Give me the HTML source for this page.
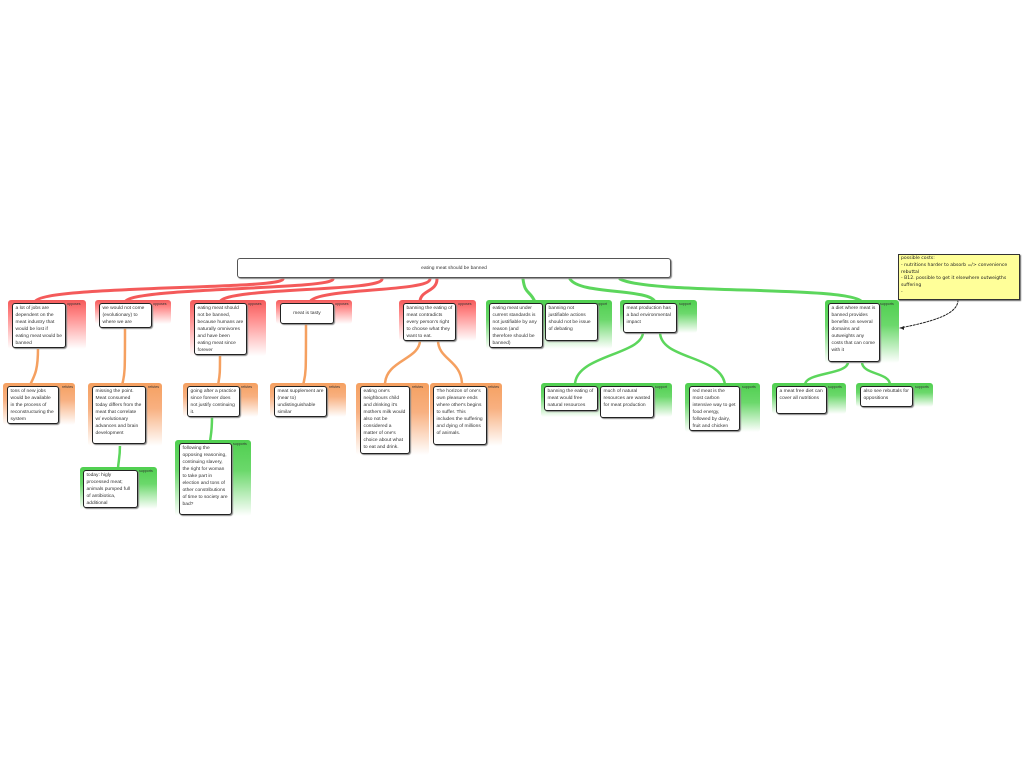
<!DOCTYPE html>
<html><head><meta charset="utf-8"><style>
body{margin:0;width:1024px;height:768px;background:#fff;position:relative;overflow:hidden;font-family:"Liberation Sans",sans-serif}
.c{position:absolute;border-radius:3px}
.r{background:linear-gradient(#f45a5a 0%,#f88 30%,#fff 100%)}
.o{background:linear-gradient(#f5a060 0%,#f8b080 40%,#fff 100%)}
.g{background:linear-gradient(#4fcf4f 0%,#6bd86b 40%,#fff 100%)}
.b{position:absolute;background:#fff;border:1.3px solid #222;border-radius:3px;font-size:4.9px;line-height:7px;color:#333;padding:1px 2.5px;box-sizing:border-box;box-shadow:1px 1px 1px #888;overflow:hidden}
.l{position:absolute;font-size:3.6px;color:#333}
svg{position:absolute;left:0;top:0}
</style></head><body>
<svg width="1024" height="768">
<g fill="none" stroke-linecap="round">
<g stroke="#f45a5a" stroke-width="3">
<path d="M283,279 C283,290 40,285 35,302"/>
<path d="M333,279 C333,290 130,287 125,302"/>
<path d="M382,279 C382,292 225,287 220,302"/>
<path d="M430,279 C430,292 315,288 310,302"/>
<path d="M437,279 C437,292 420,290 420,302"/>
</g>
<g stroke="#5cd65c" stroke-width="3">
<path d="M523,279 C525,295 530,290 535,302"/>
<path d="M570,279 C580,295 650,288 655,302"/>
<path d="M620,279 C650,295 850,285 862,302"/>
</g>
<g stroke="#f5a060" stroke-width="2.5">
<path d="M38,348 C38,370 35,375 30,385"/>
<path d="M125,328 C125,370 125,375 122,385"/>
<path d="M220,355 C220,372 220,375 218,385"/>
<path d="M306,324 C306,372 306,375 303,385"/>
<path d="M420,340 C420,360 385,360 385,385"/>
<path d="M438,340 C438,360 462,360 462,385"/>
</g>
<g stroke="#5cd65c" stroke-width="2.5">
<path d="M120,444 C120,460 118,462 118,470"/>
<path d="M212,417 C212,435 210,437 210,443"/>
<path d="M643,332 C643,355 575,355 575,385"/>
<path d="M660,332 C660,360 722,355 725,385"/>
<path d="M848,362 C848,375 805,372 805,385"/>
<path d="M862,362 C862,375 890,372 890,385"/>
</g>
<path d="M958,300 C958,315 930,322 900,328" stroke="#222" stroke-width="1" stroke-dasharray="2,1.5"/>
<path d="M900,328 l4,-2 l0,4 z" fill="#222"/>
</g>
</svg>
<div class="b" style="left:237px;top:258px;width:434px;height:20px;text-align:center;line-height:17px;border-color:#555">eating meat should be banned</div>

<div class="c r" style="left:8px;top:300px;width:78px;height:49px"></div><div class="l" style="left:67px;top:302px">opposes</div>
<div class="b" style="left:12px;top:303px;width:54px;height:45px">a lot of jobs are dependent on the meat industry that would be lost if eating meat would be banned</div>
<div class="c r" style="left:95px;top:300px;width:76px;height:24px"></div><div class="l" style="left:153px;top:302px">opposes</div>
<div class="b" style="left:99px;top:303px;width:53px;height:25px">we would not come (evolutionary) to where we are</div>
<div class="c r" style="left:190px;top:300px;width:76px;height:56px"></div><div class="l" style="left:248px;top:302px">opposes</div>
<div class="b" style="left:194px;top:303px;width:53px;height:52px">eating meat should not be banned, because humans are naturally omnivores and have been eating meat since forever</div>
<div class="c r" style="left:276px;top:300px;width:76px;height:24px"></div><div class="l" style="left:335px;top:302px">opposes</div>
<div class="b" style="left:280px;top:303px;width:54px;height:21px;text-align:center;line-height:18px">meat is tasty</div>
<div class="c r" style="left:399px;top:300px;width:77px;height:41px"></div><div class="l" style="left:458px;top:302px">opposes</div>
<div class="b" style="left:403px;top:303px;width:53px;height:38px">banning the eating of meat contradicts every person's right to choose what they want to eat.</div>

<div class="c g" style="left:486px;top:300px;width:126px;height:49px"></div><div class="l" style="left:595px;top:302px">support</div>
<div class="b" style="left:489px;top:303px;width:54px;height:45px">eating meat under current standards is not justifiable by any reason (and therefore should be banned)</div>
<div class="b" style="left:545px;top:303px;width:53px;height:38px">banning not justifiable actions should not be issue of debating</div>
<div class="c g" style="left:620px;top:300px;width:77px;height:33px"></div><div class="l" style="left:679px;top:302px">support</div>
<div class="b" style="left:623px;top:303px;width:54px;height:30px">meat production has a bad environmental impact</div>
<div class="c g" style="left:825px;top:300px;width:74px;height:63px"></div><div class="l" style="left:880px;top:302px">supports</div>
<div class="b" style="left:828px;top:303px;width:52px;height:59px">a diet where meat is banned provides benefits on several domains and outweights any costs that can come with it</div>

<div class="c o" style="left:3px;top:383px;width:72px;height:42px"></div><div class="l" style="left:62px;top:385px">refutes</div>
<div class="b" style="left:7px;top:386px;width:52px;height:38px">tons of new jobs would be available in the process of reconstructuring the system</div>
<div class="c o" style="left:88px;top:383px;width:74px;height:63px"></div><div class="l" style="left:148px;top:385px">refutes</div>
<div class="b" style="left:92px;top:386px;width:54px;height:58px">missing the point. Meat consumed today differs from the meat that correlate w/ evolutionary advances and brain development</div>
<div class="c o" style="left:183px;top:383px;width:75px;height:34px"></div><div class="l" style="left:241px;top:385px">refutes</div>
<div class="b" style="left:187px;top:386px;width:53px;height:31px">going after a practice since forever does not justify continuing it.</div>
<div class="c o" style="left:270px;top:383px;width:76px;height:34px"></div><div class="l" style="left:329px;top:385px">refutes</div>
<div class="b" style="left:274px;top:386px;width:53px;height:31px">meat supplement are (near to) undistinguishable similar</div>
<div class="c o" style="left:356px;top:383px;width:73px;height:72px"></div><div class="l" style="left:412px;top:385px">refutes</div>
<div class="b" style="left:360px;top:386px;width:50px;height:68px">eating one's neighbours child and drinking it's mothers milk would also not be considered a matter of one's choice about what to eat and drink.</div>
<div class="c o" style="left:430px;top:383px;width:72px;height:63px"></div><div class="l" style="left:488px;top:385px">refutes</div>
<div class="b" style="left:433px;top:386px;width:54px;height:59px">The horizon of one's own pleasure ends where other's begins to suffer. This includes the suffering and dying of millions of animals.</div>

<div class="c g" style="left:541px;top:383px;width:131px;height:34px"></div><div class="l" style="left:655px;top:385px">support</div>
<div class="b" style="left:544px;top:386px;width:54px;height:25px">banning the eating of meat would free natural resources</div>
<div class="b" style="left:600px;top:386px;width:54px;height:32px">much of natural resources are wasted for meat production</div>
<div class="c g" style="left:685px;top:383px;width:75px;height:49px"></div><div class="l" style="left:742px;top:385px">supports</div>
<div class="b" style="left:689px;top:386px;width:51px;height:45px">red meat is the most carbon intensive way to get food energy, followed by dairy, fruit and chicken</div>
<div class="c g" style="left:772px;top:383px;width:74px;height:31px"></div><div class="l" style="left:828px;top:385px">supports</div>
<div class="b" style="left:776px;top:386px;width:51px;height:28px">a meat free diet can cover all nutritions</div>
<div class="c g" style="left:856px;top:383px;width:77px;height:24px"></div><div class="l" style="left:915px;top:385px">supports</div>
<div class="b" style="left:860px;top:386px;width:53px;height:21px">also see rebuttals for oppositions</div>

<div class="c g" style="left:80px;top:467px;width:77px;height:42px"></div><div class="l" style="left:139px;top:469px">supports</div>
<div class="b" style="left:83px;top:470px;width:55px;height:38px">today: higly processed meat; animals pumped full of antibiotica, additional</div>
<div class="c g" style="left:175px;top:440px;width:76px;height:76px"></div><div class="l" style="left:233px;top:442px">supports</div>
<div class="b" style="left:179px;top:443px;width:53px;height:72px">following the opposing reasoning, continuing slavery, the right for woman to take part in election and tons of other constributions of time to society are bad?</div>

<div style="position:absolute;left:898px;top:254px;width:122px;height:46px;background:#ffff99;border:1px solid #333;box-shadow:1px 1px 1px #666;font-family:'DejaVu Sans',sans-serif;font-size:4.6px;line-height:6.8px;color:#222;padding:1px 2px;box-sizing:border-box">possible costs:<br>- nutritions harder to absorb =/> convenience rebuttal<br>- B12. possible to get it elsewhere outweigths suffering<br>-</div>
</body></html>
